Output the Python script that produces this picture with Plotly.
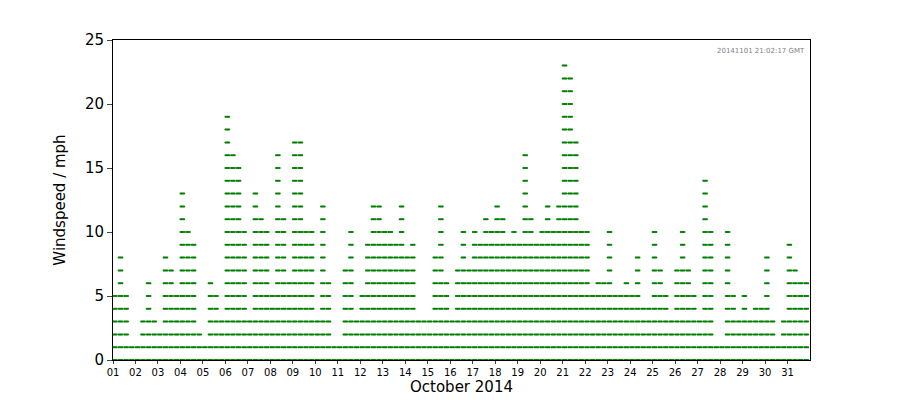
import plotly.graph_objects as go

# per day, max windspeed (mph) observed in each 6-hour block
days = list(range(1, 32))
block_max = [
    [5,8,5,1],[1,3,6,3],[2,8,7,5],[13,10,9,2],[1,6,5,3],[19,16,15,10],[3,13,11,10],
    [5,16,11,6],[17,17,10,10],[3,12,6,1],[1,7,10,3],[5,9,12,12],[10,10,9,12],[8,9,3,3],
    [3,8,12,6],[3,7,10,7],[10,9,11,10],[12,11,9,10],[9,16,11,9],[10,12,10,12],[23,22,17,10],
    [10,5,6,6],[10,5,5,6],[5,8,4,4],[10,7,5,3],[7,10,7,5],[3,14,10,1],[1,10,5,3],
    [5,3,4,4],[8,3,1,3],[9,7,6,6],
]
tick_labels = ["%02d" % d for d in days]

xs, ys = [], []
for d, blocks in zip(days, block_max):
    for b, m in enumerate(blocks):
        for h in range(5):
            t = d + (b * 6 + h) / 24.0
            for v in range(0, m + 1):
                xs.append(t); ys.append(v)

fig = go.Figure(go.Scatter(x=xs, y=ys, mode="markers",
                           marker=dict(color="green", size=2), hoverinfo="skip"))
fig.update_layout(
    width=900, height=400, plot_bgcolor="white", paper_bgcolor="white",
    margin=dict(l=105, r=98, t=32, b=48, autoexpand=False), showlegend=False,
    font=dict(family="DejaVu Sans", color="black"),
    annotations=[dict(text="20141101 21:02:17 GMT", x=0.995, y=0.985, xref="paper", yref="paper",
                      xanchor="right", yanchor="top", showarrow=False,
                      font=dict(size=7, color="gray"))],
)
fig.update_xaxes(range=[1, 32], tickvals=days, ticktext=tick_labels, tickfont=dict(size=10),
                 showgrid=False, showline=True, mirror=True, linecolor="black", ticks="outside",
                 ticklen=3, automargin=False, title=dict(text="October 2014", font=dict(size=15), standoff=2))
fig.update_yaxes(range=[0, 25], tickvals=[0, 5, 10, 15, 20, 25], tickfont=dict(size=15),
                 showgrid=False, showline=True, mirror=True, linecolor="black", ticks="outside",
                 automargin=False, zeroline=False, title=dict(text="Windspeed / mph", font=dict(size=15)))
fig.write_html("out.html")
